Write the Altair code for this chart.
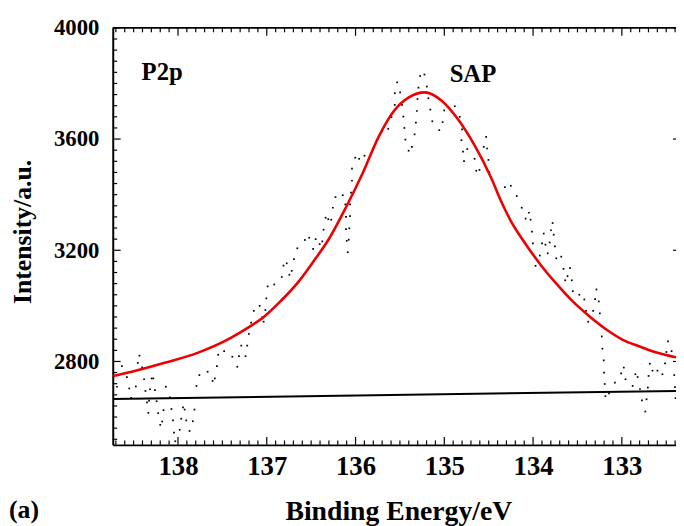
import altair as alt
import pandas as pd
import numpy as np

# ---- measured data points (Binding energy, intensity) ----
dot_E = [138.687, 138.631, 138.576, 138.549, 138.527, 138.475, 138.453, 138.434, 138.404, 138.382,
         138.367, 138.349, 138.334, 138.326, 138.315, 138.297, 138.278, 138.259, 138.241, 138.223,
         138.200, 138.178, 138.163, 138.137, 138.092, 138.074, 138.056, 138.045, 138.030, 137.981,
         137.963, 137.944, 137.925, 137.907, 137.870, 137.833, 137.814, 137.792, 137.759, 137.666,
         137.610, 137.585, 137.562, 137.547, 137.480, 137.388, 137.332, 137.313, 137.287, 137.239,
         137.220, 137.202, 137.176, 137.146, 137.080, 137.053, 137.035, 137.016, 137.005, 136.990,
         136.916, 136.831, 136.812, 136.775, 136.745, 136.719, 136.694, 136.656, 136.571, 136.522,
         136.478, 136.449, 136.404, 136.374, 136.360, 136.337, 136.307, 136.274, 136.255, 136.226,
         136.144, 136.115, 136.107, 136.107, 136.099, 136.088, 136.077, 136.070, 136.062, 136.062,
         136.051, 136.040, 136.040, 136.003, 135.959, 135.899, 135.699, 135.632, 135.595, 135.558,
         135.558, 135.531, 135.498, 135.476, 135.461, 135.450, 135.439, 135.402, 135.365, 135.335,
         135.320, 135.309, 135.302, 135.291, 135.272, 135.224, 135.197, 135.179, 135.157, 135.135,
         135.057, 135.019, 135.001, 134.882, 134.826, 134.807, 134.800, 134.789, 134.778, 134.741,
         134.659, 134.640, 134.604, 134.578, 134.556, 134.529, 134.518, 134.503, 134.492, 134.318,
         134.251, 134.184, 134.128, 134.084, 134.047, 134.028, 134.013, 134.002, 133.972, 133.924,
         133.899, 133.880, 133.861, 133.835, 133.813, 133.798, 133.780, 133.768, 133.754, 133.739,
         133.683, 133.657, 133.638, 133.612, 133.583, 133.564, 133.553, 133.527, 133.479, 133.423,
         133.404, 133.379, 133.323, 133.301, 133.286, 133.260, 133.248, 133.226, 133.219, 133.204,
         133.200, 133.193, 133.186, 133.145, 133.078, 133.008, 132.978, 132.959, 132.878, 132.847,
         132.822, 132.796, 132.774, 132.736, 132.722, 132.707, 132.699, 132.685, 132.655, 132.599,
         132.543, 132.513, 132.499, 132.480, 132.440, 132.410, 132.402, 132.395]
dot_I = [2709, 2783, 2744, 2703, 2669, 2710, 2795, 2821, 2779, 2736,
         2694, 2653, 2615, 2659, 2700, 2739, 2739, 2697, 2657, 2614,
         2572, 2584, 2625, 2709, 2671, 2629, 2588, 2544, 2513, 2554,
         2594, 2635, 2627, 2588, 2550, 2585, 2627, 2712, 2751, 2763,
         2730, 2739, 2783, 2824, 2837, 2817, 2781, 2819, 2857, 2819,
         2857, 2899, 2940, 2982, 3000, 2959, 2943, 2985, 3027, 3070,
         3077, 3104, 3145, 3153, 3112, 3126, 3168, 3207, 3237, 3245,
         3205, 3240, 3222, 3232, 3274, 3317, 3312, 3310, 3353, 3391,
         3398, 3365, 3320, 3276, 3234, 3193, 3238, 3279, 3365, 3323,
         3407, 3450, 3494, 3533, 3529, 3540, 3628, 3637, 3679, 3723,
         3765, 3804, 3768, 3723, 3681, 3640, 3598, 3558, 3572, 3617,
         3659, 3701, 3744, 3785, 3827, 3832, 3789, 3747, 3706, 3664,
         3632, 3661, 3703, 3718, 3680, 3596, 3635, 3555, 3521, 3564,
         3529, 3486, 3489, 3531, 3572, 3608, 3566, 3525, 3481, 3427,
         3432, 3395, 3353, 3314, 3335, 3310, 3267, 3225, 3144, 3181,
         3225, 3260, 3220, 3189, 3228, 3272, 3298, 3256, 3214, 3171,
         3177, 3133, 3092, 3107, 3136, 3092, 3053, 3009, 3040, 3023,
         2982, 2943, 2982, 3024, 3059, 3016, 2973, 2890, 2846, 2804,
         2760, 2719, 2675, 2685, 2724, 2757, 2778, 2736, 2712, 2754,
         2744, 2701, 2660, 2620, 2664, 2706, 2748, 2792, 2767, 2767,
         2754, 2793, 2834, 2872, 2837, 2751, 2708, 2668]

# ---- fitted curve ----
fit_E = [138.73, 138.52, 138.15, 137.78, 137.41, 137.22, 137.03, 136.85, 136.66, 136.48,
         136.29, 136.11, 135.92, 135.74, 135.57, 135.40, 135.22, 135.03, 134.85, 134.66,
         134.47, 134.36, 134.25, 134.10, 133.92, 133.73, 133.55, 133.36, 133.17, 132.99,
         132.80, 132.62, 132.39]
fit_I = [2748, 2763, 2795, 2831, 2884, 2920, 2961, 3015, 3080, 3157,
         3246, 3353, 3477, 3608, 3700, 3750, 3768, 3738, 3673, 3578,
         3459, 3376, 3305, 3230, 3150, 3077, 3015, 2961, 2914, 2878,
         2854, 2833, 2815]

# ---- background line ----
base_E = [138.735, 132.39]
base_I = [2665, 2694]

# ---- axis ticks ----
x_major = [133, 134, 135, 136, 137, 138]
y_major = [2800, 3200, 3600, 4000]
x_minor = [round(v, 1) for v in np.arange(132.4, 138.75, 0.1) if abs(v - round(v)) > 0.01]
y_minor = [v for v in range(2520, 4000, 40) if v % 400 != 0]

annot_text = ["P2p", "SAP"]
annot_E = [138.41, 134.94]
annot_I = [3814, 3807]

W, H = 570, 422
FONT = "Liberation Serif"

xscale = alt.Scale(domain=[132.39, 138.735], reverse=True, nice=False, zero=False)
yscale = alt.Scale(domain=[2500, 4000], nice=False, zero=False)

df_dots = pd.DataFrame({"E": dot_E, "I": dot_I})
df_fit = pd.DataFrame({"E": fit_E, "I": fit_I})
df_base = pd.DataFrame({"E": base_E, "I": base_I})
df_xmaj = pd.DataFrame({"E": x_major})
df_xmin = pd.DataFrame({"E": x_minor})
df_ymaj = pd.DataFrame({"I": y_major})
df_ymin = pd.DataFrame({"I": y_minor})
df_ann = pd.DataFrame({"E": annot_E, "I": annot_I, "label": annot_text})
df_one = pd.DataFrame({"a": [0]})

common_axis = dict(ticks=False, grid=False, domainWidth=2, domainColor="black",
                   labelFont=FONT, labelFontWeight="bold", labelColor="black",
                   titleFont=FONT, titleFontWeight="bold", titleColor="black",
                   labelFlush=False, format="d", titleBaseline="alphabetic", titleAlign="center")
xaxis = alt.Axis(values=x_major, labelFontSize=27, labelPadding=9,
                 title="Binding Energy/eV", titleFontSize=28, titleX=289, titleY=76, **common_axis)
yaxis = alt.Axis(values=y_major, labelFontSize=23, labelPadding=14,
                 title="Intensity/a.u.", titleFontSize=26, titleX=-83, titleY=206,
                 titleAngle=270, **common_axis)

X = alt.X("E:Q", scale=xscale, axis=xaxis)
Y = alt.Y("I:Q", scale=yscale, axis=yaxis)

dots = alt.Chart(df_dots).mark_square(size=3, color="black", opacity=1).encode(x=X, y=Y)

fit = alt.Chart(df_fit).mark_line(color="#ee0000", strokeWidth=2.6, interpolate="monotone",
                                  clip=True).encode(x=X, y=Y)

base = alt.Chart(df_base).mark_line(color="black", strokeWidth=2, clip=True).encode(x=X, y=Y)

tick_style = dict(color="black", strokeWidth=1.2)
xb_maj = alt.Chart(df_xmaj).mark_rule(**tick_style).encode(
    x=X, y=alt.value(H), y2=alt.value(H - 8))
xb_min = alt.Chart(df_xmin).mark_rule(**tick_style).encode(
    x=X, y=alt.value(H), y2=alt.value(H - 4.5))
xt_maj = alt.Chart(df_xmaj).mark_rule(**tick_style).encode(
    x=X, y=alt.value(0), y2=alt.value(8))
xt_min = alt.Chart(df_xmin).mark_rule(**tick_style).encode(
    x=X, y=alt.value(0), y2=alt.value(4.5))
yl_maj = alt.Chart(df_ymaj).mark_rule(**tick_style).encode(
    y=Y, x=alt.value(0), x2=alt.value(8))
yl_min = alt.Chart(df_ymin).mark_rule(**tick_style).encode(
    y=Y, x=alt.value(0), x2=alt.value(4.5))
yr_maj = alt.Chart(df_ymaj).mark_rule(**tick_style).encode(
    y=Y, x=alt.value(W), x2=alt.value(W - 3))

top_line = alt.Chart(df_one).mark_rule(color="black", strokeWidth=2).encode(
    x=alt.value(0), x2=alt.value(W), y=alt.value(0))

ann = alt.Chart(df_ann).mark_text(align="left", baseline="alphabetic", font=FONT,
                                  fontWeight="bold", fontSize=25, color="black").encode(
    x=X, y=Y, text="label:N")

panel = alt.Chart(df_one).mark_text(align="left", baseline="alphabetic", font=FONT,
                                    fontWeight="bold", fontSize=26, color="black").encode(
    x=alt.value(-105), y=alt.value(496), text=alt.value("(a)"))

chart = alt.layer(
    dots, base, fit, xb_maj, xb_min, xt_maj, xt_min, yl_maj, yl_min, yr_maj, top_line, ann, panel
).properties(
    width=W, height=H,
    padding={"left": 106, "top": 17, "right": 0, "bottom": 79},
    autosize=alt.AutoSizeParams(type="none"),
).configure(background="white").configure_view(stroke=None)

chart.save("out.html", embed_options={"renderer": "svg", "actions": False})
